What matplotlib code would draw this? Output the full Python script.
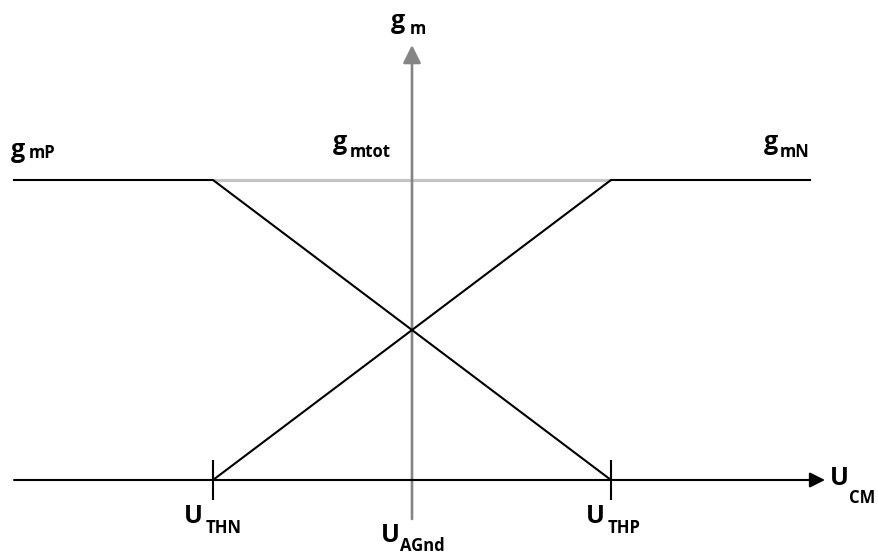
import matplotlib
matplotlib.use("Agg")
import matplotlib.pyplot as plt
import matplotlib.transforms as mtransforms

# transconductance sketch: u in units of threshold spacing, gm normalised
u_gmP = [-2, -1, 1]
gm_gmP = [1, 1, 0]
u_gmN = [-1, 1, 2]
gm_gmN = [0, 1, 1]
u_gmtot = [-1, 1]
gm_gmtot = [1, 1]
u_ticks = [-1, 1]

W, H = 879, 554
X0, Y0 = 412, 480          # pixel position of origin
SX, SY = 199, 300          # pixels per unit

plt.rcParams['font.family'] = ['Open Sans', 'DejaVu Sans']

fig = plt.figure(figsize=(W / 100, H / 100), dpi=100)
ax = fig.add_axes([0, 0, 1, 1])
ax.set_xlim(-X0 / SX, (W - X0) / SX)
ax.set_ylim((Y0 - H) / SY, Y0 / SY)
ax.axis('off')

BLACK = '#000000'
lw = 1.5

# total gm (grey plateau)
ax.plot(u_gmtot, gm_gmtot, color='#c4c4c4', lw=2.3, solid_capstyle='butt', zorder=1)

# vertical axis (grey, with arrow)
ax.annotate('', xy=(0, (Y0 - 45) / SY), xytext=(0, (Y0 - 519) / SY),
            arrowprops=dict(arrowstyle='-|>', mutation_scale=27, lw=1.9,
                            color='#858585', shrinkA=0, shrinkB=0), zorder=2)

# horizontal axis
ax.annotate('', xy=((825 - X0) / SX, 0), xytext=(-2, 0),
            arrowprops=dict(arrowstyle='-|>', mutation_scale=23, lw=lw,
                            color=BLACK, shrinkA=0, shrinkB=0), zorder=4)

# threshold ticks
for u in u_ticks:
    ax.plot([u, u], [-0.063, 0.063], color=BLACK, lw=lw, zorder=4)

# gmP and gmN curves
ax.plot(u_gmP, gm_gmP, color=BLACK, lw=lw, zorder=3)
ax.plot(u_gmN, gm_gmN, color=BLACK, lw=lw, zorder=3)

# labels in pixel coordinates (origin top-left), baseline-aligned
pix = mtransforms.Affine2D().scale(1, -1).translate(0, H)


def label(main, sub, x, y, xs, ys):
    fig.text(x, y, main, transform=pix, fontsize=18, fontweight='bold',
             ha='left', va='baseline')
    fig.text(xs, ys, sub, transform=pix, fontsize=12, fontweight='bold',
             ha='left', va='baseline')


label('g', 'm', 391, 28, 410, 34)
label('g', 'mP', 11, 157, 29, 158)
label('g', 'mtot', 333, 149, 350, 157)
label('g', 'mN', 764, 149, 780, 157)
label('U', 'THN', 184, 523, 206, 533)
label('U', 'THP', 586, 523, 608, 533)
label('U', 'AGnd', 381, 542, 400, 551)
label('U', 'CM', 830, 485, 849, 503)

fig.savefig('out.png', dpi=100)
